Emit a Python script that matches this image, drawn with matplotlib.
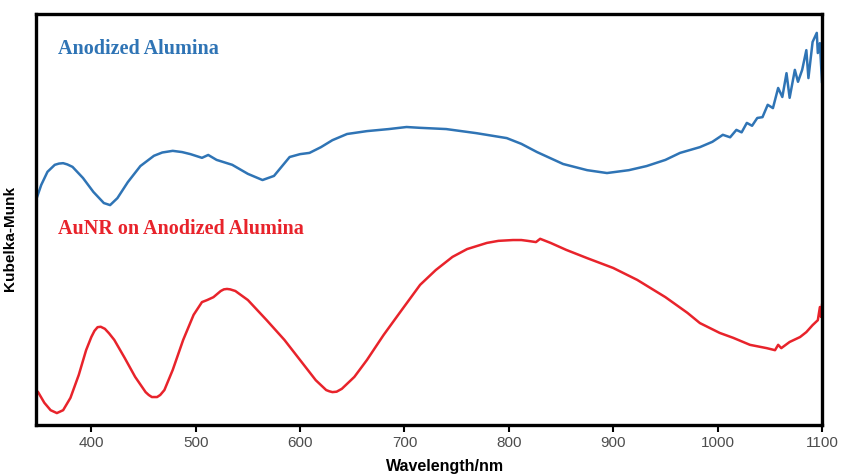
import numpy as np
import matplotlib
matplotlib.use("Agg")
import matplotlib.pyplot as plt

# Anodized alumina (blue), wavelength in nm and Kubelka-Munk (arb. units)
wl_blue = [347, 352, 358, 365, 369, 373, 377, 382, 392, 402, 412, 418, 425, 435, 447, 460,
           468, 478, 487, 495, 506, 512, 520, 535, 550, 564, 575, 590, 600, 609, 620, 631,
           645, 664, 685, 702, 715, 740, 769, 798, 812, 827, 852, 875, 894, 915, 932, 950,
           964, 983, 995, 1005, 1012, 1018, 1023, 1028, 1033, 1038, 1043, 1048, 1053, 1058,
           1062, 1066, 1069, 1074, 1077, 1081, 1085, 1087, 1091, 1095, 1096, 1098, 1100]
km_blue = [0.547, 0.584, 0.616, 0.633, 0.636, 0.637, 0.634, 0.628, 0.601, 0.567, 0.540,
           0.535, 0.552, 0.591, 0.630, 0.655, 0.663, 0.667, 0.664, 0.659, 0.650, 0.657,
           0.645, 0.633, 0.611, 0.596, 0.606, 0.652, 0.659, 0.662, 0.676, 0.693, 0.708,
           0.715, 0.720, 0.725, 0.723, 0.720, 0.710, 0.698, 0.684, 0.664, 0.635, 0.620,
           0.613, 0.620, 0.630, 0.645, 0.662, 0.676, 0.689, 0.706, 0.700, 0.718, 0.712,
           0.735, 0.728, 0.747, 0.749, 0.779, 0.771, 0.820, 0.798, 0.856, 0.796, 0.864,
           0.835, 0.864, 0.912, 0.844, 0.932, 0.954, 0.905, 0.929, 0.835]

# AuNR on anodized alumina (red)
wl_red = [347, 349, 355, 361, 367, 373, 380, 388, 395, 400, 403, 406, 409, 413, 417, 422,
          432, 442, 452, 455, 458, 463, 466, 470, 478, 488, 498, 506, 511, 517, 524, 527,
          530, 533, 538, 550, 568, 585, 600, 615, 625, 628, 631, 635, 640, 652, 664, 680,
          696, 715, 730, 746, 760, 779, 790, 804, 812, 818, 826, 830, 840, 855, 875, 900,
          923, 950, 971, 983, 1002, 1015, 1031, 1047, 1055, 1058, 1061, 1069, 1079, 1085,
          1091, 1096, 1098, 1099, 1100]
km_red = [0.085, 0.080, 0.054, 0.036, 0.029, 0.036, 0.066, 0.122, 0.182, 0.214, 0.229,
          0.238, 0.239, 0.234, 0.223, 0.207, 0.163, 0.117, 0.080, 0.073, 0.068, 0.068,
          0.073, 0.085, 0.134, 0.207, 0.268, 0.299, 0.304, 0.311, 0.326, 0.330, 0.331,
          0.330, 0.326, 0.304, 0.255, 0.207, 0.158, 0.109, 0.085, 0.082, 0.080, 0.081,
          0.088, 0.117, 0.158, 0.219, 0.275, 0.341, 0.377, 0.409, 0.428, 0.443, 0.448,
          0.450, 0.450, 0.448, 0.445, 0.453, 0.443, 0.426, 0.406, 0.382, 0.353, 0.311,
          0.273, 0.248, 0.224, 0.212, 0.195, 0.187, 0.182, 0.195, 0.187, 0.202, 0.214,
          0.226, 0.243, 0.255, 0.287, 0.263, 0.292]

xticks = [400, 500, 600, 700, 800, 900, 1000, 1100]

blue = '#2f74b5'
red = '#e8232b'

fig = plt.figure(figsize=(8.41, 4.74), dpi=100)
ax = fig.add_axes([0.0428, 0.1034, 0.9346, 0.8671])

ax.plot(wl_blue, km_blue, color=blue, lw=1.8)
ax.plot(wl_red, km_red, color=red, lw=1.8)

ax.set_xlim(347, 1100)
ax.set_ylim(0, 1)
ax.set_xticks(xticks)
ax.set_yticks([])
ax.tick_params(axis='x', direction='out', length=5, width=1.5, colors='black',
               labelcolor='#4d4d4d', labelsize=11, pad=3)
for lab in ax.get_xticklabels():
    lab.set_family('Liberation Sans')
for s in ax.spines.values():
    s.set_linewidth(2.4)

ax.text(0.028, 0.916, 'Anodized Alumina', transform=ax.transAxes, color=blue,
        family='Liberation Serif', fontweight='bold', fontsize=14.5, va='center')
ax.text(0.028, 0.478, 'AuNR on Anodized Alumina', transform=ax.transAxes, color=red,
        family='Liberation Serif', fontweight='bold', fontsize=14.5, va='center')

fig.text(0.529, 0.015, 'Wavelength/nm', ha='center', va='center',
         family='Liberation Sans', fontweight='bold', fontsize=11.5)
fig.text(0.012, 0.496, 'Kubelka-Munk', rotation=90, ha='center', va='center',
         family='Liberation Sans', fontweight='bold', fontsize=11)

fig.savefig('out.png', dpi=100)
